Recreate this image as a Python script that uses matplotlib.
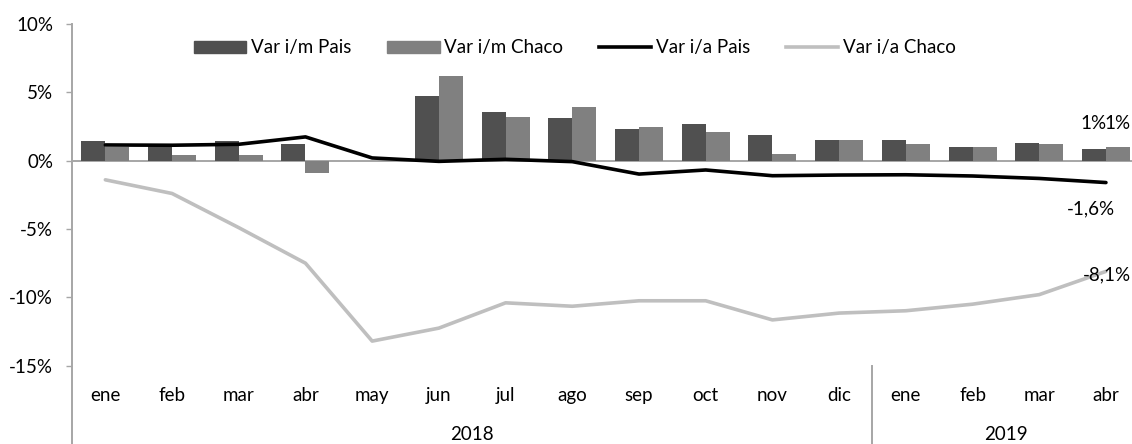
import numpy as np
import matplotlib
matplotlib.use("Agg")
import matplotlib.pyplot as plt
from matplotlib.lines import Line2D
from matplotlib.patches import Patch
from matplotlib.transforms import blended_transform_factory

plt.rcParams['font.family'] = ['Lato', 'DejaVu Sans']
plt.rcParams['axes.unicode_minus'] = False

months = ["ene", "feb", "mar", "abr", "may", "jun", "jul", "ago", "sep", "oct", "nov", "dic",
          "ene", "feb", "mar", "abr"]
years = ["2018", "2019"]
year_counts = [12, 4]

im_pais = [1.45, 1.1, 1.42, 1.25, np.nan, 4.7, 3.56, 3.14, 2.33, 2.72, 1.87, 1.5, 1.5, 1.03, 1.28, 0.86]
im_chaco = [1.0, 0.44, 0.44, -0.88, np.nan, 6.2, 3.2, 3.95, 2.43, 2.13, 0.49, 1.54, 1.25, 1.0, 1.23, 0.98]
ia_pais = [1.15, 1.13, 1.2, 1.74, 0.2, -0.05, 0.1, -0.07, -0.98, -0.68, -1.1, -1.05, -1.03, -1.12, -1.3, -1.6]
ia_chaco = [-1.4, -2.4, -4.9, -7.5, -13.2, -12.25, -10.4, -10.65, -10.25, -10.25, -11.65, -11.15,
            -10.98, -10.5, -9.8, -8.1]
yticks = [10, 5, 0, -5, -10, -15]

W, H = 1132, 444
fig = plt.figure(figsize=(W / 100, H / 100), dpi=100)
ax = fig.add_axes([72 / W, (H - 365.7) / H, (1139.3 - 72) / W, (365.7 - 24) / H])

c_dark = "#505050"
c_light = "#808080"
c_black = "#000000"
c_gray = "#BFBFBF"
c_axis = "#A6A6A6"
fs = 13.5

x = np.arange(len(months))
bw = 0.36
ax.bar(x - bw / 2, im_pais, bw, color=c_dark, zorder=2)
ax.bar(x + bw / 2, im_chaco, bw, color=c_light, zorder=2)
ax.axhline(0, color=c_axis, lw=1.4, zorder=1)
ax.plot(x, ia_pais, color=c_black, lw=2.6, zorder=3, solid_capstyle='round')
ax.plot(x, ia_chaco, color=c_gray, lw=2.6, zorder=3, solid_capstyle='round')

ax.set_xlim(-0.5, len(months) - 0.5)
ax.set_ylim(-15, 10)
ax.set_yticks(yticks)
ax.set_yticklabels([f"{v}%" for v in yticks], fontsize=fs)
ax.tick_params(axis='y', length=4.5, width=1, color=c_axis, pad=9)
ax.set_xticks([])
for s in ["top", "right", "bottom", "left"]:
    ax.spines[s].set_visible(False)

# left axis line extending down to figure bottom
fig.add_artist(Line2D([72 / W, 72 / W], [0, (H - 24) / H], color=c_axis, lw=1.4))

bt = blended_transform_factory(ax.transData, fig.transFigure)
for i, m in enumerate(months):
    ax.text(i, 1 - 395 / H, m, transform=bt, ha='center', va='center', fontsize=fs)
start = 0
for yr, n in zip(years, year_counts):
    ax.text(start + (n - 1) / 2, 1 - 434 / H, yr, transform=bt, ha='center', va='center', fontsize=fs)
    start += n
ax.plot([11.5, 11.5], [0, 1 - 366 / H], transform=bt, color=c_axis, lw=1.4, clip_on=False)

# data labels on last point
last = len(months) - 1
ax.annotate(f"{im_pais[last]:.0f}%", (last - bw / 2, 2.7), ha='center', va='center', fontsize=fs)
ax.annotate(f"{im_chaco[last]:.0f}%", (last + bw / 2, 2.7), ha='center', va='center', fontsize=fs)
ax.annotate(f"{ia_pais[last]:.1f}%".replace('.', ','), (last, ia_pais[last]), xytext=(-11, -19),
            textcoords='offset points', ha='center', va='center', fontsize=fs)
ax.annotate(f"{ia_chaco[last]:.1f}%".replace('.', ','), (last, ia_chaco[last]), xytext=(1, -2.5),
            textcoords='offset points', ha='center', va='center', fontsize=fs)

handles = [Patch(color=c_dark), Patch(color=c_light),
           Line2D([], [], color=c_black, lw=2.6), Line2D([], [], color=c_gray, lw=2.6)]
labels = ["Var i/m Pais", "Var i/m Chaco", "Var i/a Pais", "Var i/a Chaco"]
fig.legend(handles, labels, loc='center', bbox_to_anchor=(575 / W, 1 - 48 / H), ncol=4,
           frameon=False, fontsize=fs, handlelength=2.8, handleheight=0.6, handletextpad=0.25,
           columnspacing=1.9, borderpad=0, borderaxespad=0)

fig.savefig("out.png", dpi=100)
